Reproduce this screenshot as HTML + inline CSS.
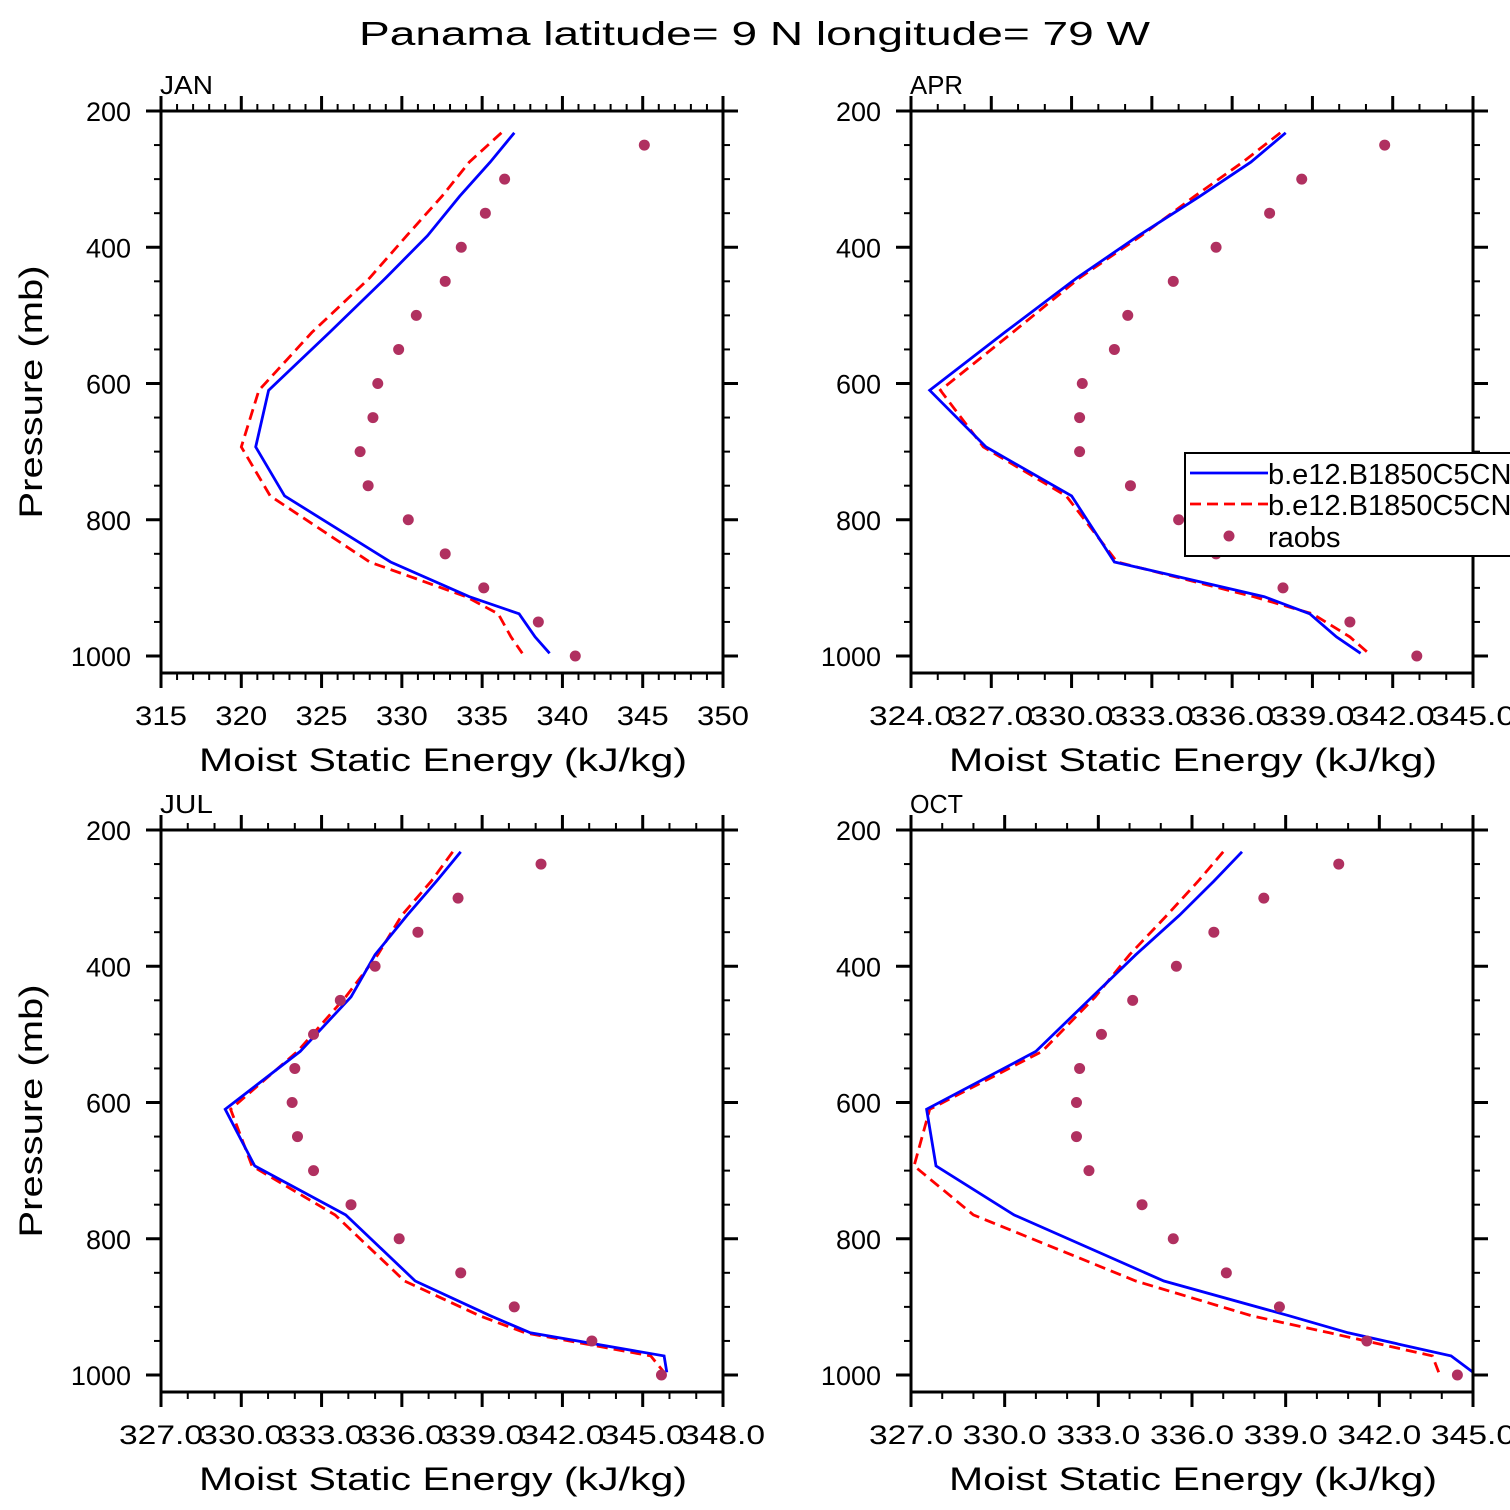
<!DOCTYPE html>
<html><head><meta charset="utf-8"><style>
html,body{margin:0;padding:0;background:#fff;width:1510px;height:1510px;overflow:hidden}
svg{display:block;font-family:"Liberation Sans",sans-serif}
</style></head><body>
<svg id="chart" width="1510" height="1510" viewBox="0 0 1510 1510" xmlns="http://www.w3.org/2000/svg">
<text x="359" y="45" font-size="33" textLength="791" lengthAdjust="spacingAndGlyphs">Panama  latitude= 9 N longitude= 79 W</text>
</svg>
<script>
const modelP = [232,275,325,383,445,525,610,693,765,862,913,938,972,996];
const obsP = [250,300,350,400,450,500,550,600,650,700,750,800,850,900,950,1000];

const janBlue = [337.0,335.5,333.6,331.6,329.0,325.5,321.7,320.9,322.7,329.3,334.2,337.3,338.3,339.2];
const janRed  = [336.2,334.2,332.5,330.3,328.0,324.4,321.1,320.0,321.8,328.0,334.0,336.0,336.8,337.5];
const janObs  = [345.1,336.4,335.2,333.7,332.7,330.9,329.8,328.5,328.2,327.4,327.9,330.4,332.7,335.1,338.5,340.8];

const aprBlue = [338.0,336.7,334.8,332.5,330.2,327.5,324.7,326.8,330.0,331.6,337.2,338.9,339.9,340.8];
const aprRed  = [337.8,336.4,334.6,332.6,330.3,327.8,325.1,326.7,329.8,331.7,336.8,339.0,340.4,341.1];
const aprObs  = [341.7,338.6,337.4,335.4,333.8,332.1,331.6,330.4,330.3,330.3,332.2,334.0,335.4,337.9,340.4,342.9];

const julBlue = [338.2,337.3,336.2,335.0,334.1,332.2,329.4,330.5,333.9,336.5,339.3,340.8,345.8,345.9];
const julRed  = [337.9,337.1,336.0,335.1,333.9,332.1,329.6,330.4,333.5,336.1,338.9,340.6,345.3,345.8];
const julObs  = [341.2,338.1,336.6,335.0,333.7,332.7,332.0,331.9,332.1,332.7,334.1,335.9,338.2,340.2,343.1,345.7];

const octBlue = [337.6,336.7,335.6,334.2,332.8,331.0,327.5,327.8,330.3,335.1,339.1,341.0,344.3,345.0];
const octRed  = [337.0,336.2,335.2,334.0,332.9,331.2,327.6,327.1,329.0,334.2,337.9,340.4,343.7,343.9];
const octObs  = [340.7,338.3,336.7,335.5,334.1,333.1,332.4,332.3,332.3,332.7,334.4,335.4,337.1,338.8,341.6,344.5];

const pTicks = [200,400,600,800,1000];
const janTicks = ["315","320","325","330","335","340","345","350"];
const aprTicks = ["324.0","327.0","330.0","333.0","336.0","339.0","342.0","345.0"];
const julTicks = ["327.0","330.0","333.0","336.0","339.0","342.0","345.0","348.0"];
const octTicks = ["327.0","330.0","333.0","336.0","339.0","342.0","345.0"];

const NS='http://www.w3.org/2000/svg';
const svg=document.getElementById('chart');
function mk(tag,attrs,parent){const e=document.createElementNS(NS,tag);for(const k in attrs)e.setAttribute(k,attrs[k]);(parent||svg).appendChild(e);return e;}

function panel(name,left,top,xmin,xmax,major,labels,lw,blue,red,obs,showLegend){
  const W=562,H=562,right=left+W,bottom=top+H;
  const g=mk('g',{});
  
  
  const xs=v=>left+(v-xmin)/(xmax-xmin)*W;
  const ys=p=>top+(p-200)*0.68125;
  const cp=mk('clipPath',{id:'c'+name},g);mk('rect',{x:left,y:top,width:W,height:H},cp);
  const pts=arr=>arr.map((v,i)=>xs(v).toFixed(1)+','+ys(modelP[i]).toFixed(1)).join(' ');
  const rl=mk('polyline',{points:pts(red),fill:'none',stroke:'#ff0000','stroke-width':2.8,'stroke-dasharray':'11,6','clip-path':'url(#c'+name+')'},g);
  
  
  const bl=mk('polyline',{points:pts(blue),fill:'none',stroke:'#0000ff','stroke-width':2.8,'clip-path':'url(#c'+name+')'},g);
  
  
  obs.forEach((v,i)=>{
    const c=mk('circle',{cx:xs(v),cy:ys(obsP[i]),r:5.5,fill:'#b03060'},g);
    
    
  });
  const fr=mk('rect',{x:left,y:top,width:W,height:H,fill:'none',stroke:'#000','stroke-width':3},g);
  
  
  for(let v=xmin;v<=xmax+1e-6;v+=1){
    const isMaj=Math.abs(((v-xmin)/major)-Math.round((v-xmin)/major))<1e-6;
    const L=isMaj?15:7,x=xs(v);
    mk('line',{x1:x,y1:bottom,x2:x,y2:bottom+L,stroke:'#000','stroke-width':isMaj?3:2},g);
    mk('line',{x1:x,y1:top,x2:x,y2:top-L,stroke:'#000','stroke-width':isMaj?3:2},g);
  }
  for(let p=200;p<=1025;p+=50){
    const isMaj=p%200===0,L=isMaj?15:7,y=ys(p);
    mk('line',{x1:left,y1:y,x2:left-L,y2:y,stroke:'#000','stroke-width':isMaj?3:2},g);
    mk('line',{x1:right,y1:y,x2:right+L,y2:y,stroke:'#000','stroke-width':isMaj?3:2},g);
  }
  pTicks.forEach(p=>{
    const t=mk('text',{x:left-30,y:ys(p)+10,'font-size':27,'text-anchor':'end'},g);
    t.textContent=String(p);
    
    
  });
  labels.forEach((s,i)=>{
    const v=xmin+i*major;
    const t=mk('text',{x:xs(v)-lw/2,y:bottom+52,'font-size':27,textLength:lw,lengthAdjust:'spacingAndGlyphs'},g);
    t.textContent=s;
    
    
  });
  const xt=mk('text',{x:left+38,y:bottom+98,'font-size':32,textLength:488,lengthAdjust:'spacingAndGlyphs'},g);
  xt.textContent='Moist Static Energy (kJ/kg)';
  
  
  const pt=mk('text',{x:left-1,y:top-17,'font-size':26,textLength:53,lengthAdjust:'spacingAndGlyphs'},g);
  pt.textContent=name.toUpperCase();
  
  
  if(left<500){
    const cy=top+281;
    const yt=mk('text',{x:0,y:0,'font-size':32,textLength:253,lengthAdjust:'spacingAndGlyphs','text-anchor':'middle',transform:'translate(42,'+cy+') rotate(-90)'},g);
    yt.textContent='Pressure (mb)';
    
    
  }
  if(showLegend){
    const lg=mk('g',{},g);
    
    
    mk('rect',{x:1185,y:453,width:340,height:103,fill:'#fff',stroke:'#000','stroke-width':2},lg);
    mk('line',{x1:1190,y1:473,x2:1268,y2:473,stroke:'#0000ff','stroke-width':2.8},lg);
    mk('line',{x1:1190,y1:504,x2:1268,y2:504,stroke:'#ff0000','stroke-width':2.8,'stroke-dasharray':'11,6'},lg);
    mk('circle',{cx:1229,cy:536,r:5.5,fill:'#b03060'},lg);
    [['b.e12.B1850C5CN',484],['b.e12.B1850C5CN',515],['raobs',547]].forEach(([s,y])=>{
      const t=mk('text',{x:1268,y:y,'font-size':29},lg);
      t.textContent=s;
      
      
    });
  }
}
panel('jan',161,111,315,350,5,janTicks,52,janBlue,janRed,janObs,false);
panel('apr',911,111,324,345,3,aprTicks,84,aprBlue,aprRed,aprObs,true);
panel('jul',161,830,327,348,3,julTicks,84,julBlue,julRed,julObs,false);
panel('oct',911,830,327,345,3,octTicks,84,octBlue,octRed,octObs,false);
</script>
</body></html>
